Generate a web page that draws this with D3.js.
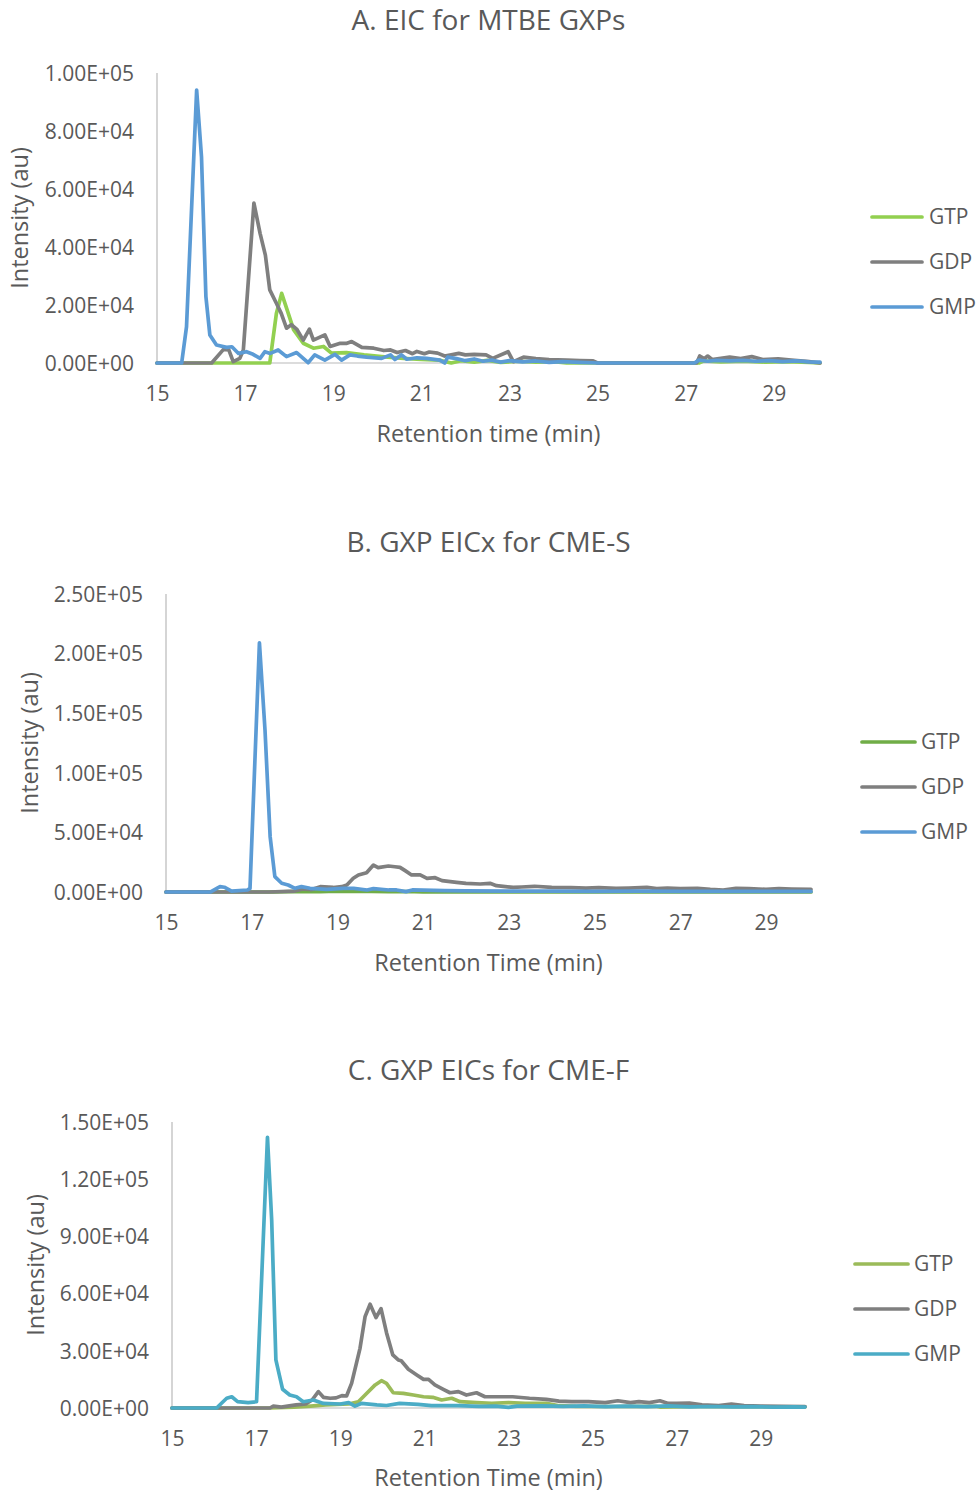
<!DOCTYPE html>
<html>
<head>
<meta charset="utf-8">
<script src="https://cdnjs.cloudflare.com/ajax/libs/d3/7.8.5/d3.min.js"></script>
<style>
  body { margin: 0; background: #fff; }
  svg text { font-family: "Open Sans", sans-serif; fill: #595959; }
</style>
</head>
<body>
<svg id="chart" width="978" height="1493"></svg>
<script>
// retention time ticks shared by all three panels
const xTicks = [15, 17, 19, 21, 23, 25, 27, 29]
const seriesNames = ['GTP', 'GDP', 'GMP']

// A. EIC for MTBE GXPs  ([time (min), intensity])
const aTicks = [0, 2e4, 4e4, 6e4, 8e4, 1e5]
const aGTP = [[15,0],[17.56,0],[17.71,17100],[17.83,24000],[17.98,17100],[18.1,11500],[18.32,6800],[18.55,5100],[18.78,5700],[18.96,3400],[19.3,3600],[19.7,2800],[20.1,2200],[20.6,1600],[21.0,1200],[21.4,1000],[21.68,0],[21.9,800],[22.2,300],[22.5,900],[22.8,200],[23.2,600],[23.6,300],[24.0,500],[24.3,0],[27.3,0],[27.4,700],[27.8,400],[28.3,600],[28.8,300],[29.3,500],[29.8,200],[30.05,0]]
const aGDP = [[15,0],[16.24,0],[16.51,4700],[16.63,4500],[16.73,500],[16.88,1600],[16.96,4500],[17.2,55100],[17.34,44700],[17.46,37200],[17.56,25200],[17.71,20600],[17.82,17100],[17.94,12000],[18.05,13200],[18.17,11700],[18.32,7900],[18.46,11700],[18.55,7900],[18.81,9700],[18.93,5700],[19.16,6800],[19.31,6800],[19.42,7400],[19.65,5400],[19.92,5100],[20.15,4300],[20.3,4500],[20.45,3600],[20.64,4300],[20.8,3200],[20.9,4000],[21.07,3200],[21.18,3800],[21.37,3400],[21.53,2400],[21.68,2800],[21.85,3300],[22.0,2800],[22.2,3000],[22.47,2800],[22.62,1600],[22.97,3900],[23.09,450],[23.32,2000],[23.6,1500],[23.9,1200],[24.3,1000],[24.6,800],[24.9,700],[25.0,0],[27.25,0],[27.32,2400],[27.42,1500],[27.5,2400],[27.6,1200],[28.0,2000],[28.25,1500],[28.5,2200],[28.75,1200],[29.1,1400],[29.4,1000],[29.8,500],[30.05,0]]
const aGMP = [[15,0],[15.56,0],[15.67,12500],[15.9,94100],[16.01,71100],[16.11,22900],[16.2,9650],[16.35,6200],[16.58,5400],[16.7,5600],[16.85,3300],[17.03,3900],[17.18,3000],[17.34,1600],[17.45,3900],[17.57,3300],[17.75,4500],[17.94,2200],[18.17,3600],[18.43,100],[18.58,2800],[18.81,1000],[19.04,3000],[19.19,1000],[19.38,2800],[19.55,2400],[19.76,2000],[20.1,1600],[20.3,2800],[20.4,1200],[20.55,2800],[20.67,1300],[20.9,1800],[21.12,1600],[21.42,1000],[21.53,0],[21.6,2000],[21.8,1500],[22.0,800],[22.2,1400],[22.4,600],[22.6,1000],[22.8,300],[23.0,800],[23.3,400],[23.6,700],[23.9,200],[24.2,500],[24.6,200],[25.0,0],[27.2,0],[27.3,1000],[27.5,600],[27.7,900],[28.0,700],[28.3,900],[28.6,600],[28.9,800],[29.2,500],[29.5,700],[29.8,400],[30.05,300]]

// B. GXP EICx for CME-S
const bTicks = [0, 5e4, 1e5, 1.5e5, 2e5, 2.5e5]
const bGTP = [[15,0],[17.5,0],[18.2,500],[18.6,300],[19.0,700],[19.4,400],[19.8,600],[20.2,200],[20.6,400],[21.0,0],[30.05,0]]
const bGDP = [[15,0],[17.4,0],[18.0,800],[18.2,2500],[18.4,2000],[18.6,4500],[18.9,3800],[19.1,4500],[19.22,5900],[19.37,11500],[19.49,14300],[19.68,16200],[19.84,22600],[19.95,20400],[20.19,21800],[20.34,21200],[20.46,20700],[20.58,17900],[20.73,14300],[20.93,14300],[21.09,11500],[21.28,12000],[21.44,9500],[21.78,8100],[22.0,7300],[22.33,6700],[22.56,7300],[22.71,5300],[23.1,3900],[23.3,4200],[23.6,4800],[24.0,3900],[24.45,3600],[24.8,3300],[25.1,3600],[25.5,3100],[25.8,3300],[26.22,3900],[26.45,2800],[26.7,3300],[27.0,2800],[27.4,3100],[27.7,2200],[28.0,1700],[28.3,3100],[28.6,2800],[29.0,2200],[29.3,2800],[29.6,2500],[30.05,2200]]
const bGMP = [[15,0],[16.03,0],[16.26,4500],[16.36,4000],[16.53,800],[16.9,1700],[16.96,3000],[17.18,209100],[17.31,135900],[17.43,46400],[17.54,12900],[17.7,7300],[17.85,5900],[18.01,3100],[18.16,4500],[18.36,3100],[18.75,2200],[19.14,3100],[19.38,3100],[19.69,1700],[19.84,2800],[20.2,1700],[20.38,1700],[20.6,300],[20.75,1700],[21.5,1200],[22.0,900],[23,800],[24,700],[25,600],[26,700],[27,500],[28,600],[29,500],[30.05,500]]

// C. GXP EICs for CME-F
const cTicks = [0, 3e4, 6e4, 9e4, 1.2e5, 1.5e5]
const cGTP = [[15,0],[17.33,0],[17.9,500],[18.3,1000],[18.65,1600],[19.2,2100],[19.43,3300],[19.59,6800],[19.83,12100],[19.98,14300],[20.1,12900],[20.26,8000],[20.5,7700],[20.74,6800],[20.98,5900],[21.2,5600],[21.41,4200],[21.65,5100],[21.85,3300],[22.24,2800],[22.6,2500],[23.0,2800],[23.4,2500],[23.9,2500],[24.2,1200],[24.6,900],[25.5,800],[26.5,900],[26.6,500],[27.5,800],[28.5,700],[29.5,600],[30.05,600]]
const cGDP = [[15,0],[17.33,0],[17.41,1000],[17.6,500],[17.75,1000],[17.95,1600],[18.18,2100],[18.33,4200],[18.48,8600],[18.6,5600],[18.76,5100],[18.9,5300],[19.04,6500],[19.15,6300],[19.27,12900],[19.47,31300],[19.59,47900],[19.71,54400],[19.85,47400],[19.97,52100],[20.1,39500],[20.25,27800],[20.38,25200],[20.45,24800],[20.62,20300],[20.82,17300],[20.98,15000],[21.1,15000],[21.25,12100],[21.45,9800],[21.61,8000],[21.81,8600],[22.0,6800],[22.24,8000],[22.44,5900],[22.7,5900],[23.1,5900],[23.5,5100],[23.9,4500],[24.2,3600],[24.5,3300],[24.9,3300],[25.3,2800],[25.6,3800],[25.9,2800],[26.1,3300],[26.35,2800],[26.6,3800],[26.8,2400],[27.0,2400],[27.3,2600],[27.6,1600],[28.0,1300],[28.3,2100],[28.6,1300],[29.0,1000],[29.5,900],[30.05,700]]
const cGMP = [[15,0],[16.06,0],[16.3,5100],[16.42,5900],[16.56,3300],[16.81,2800],[17.01,3300],[17.27,142000],[17.37,98600],[17.47,25200],[17.63,9800],[17.8,6800],[17.96,5900],[18.12,3300],[18.36,4200],[18.6,2400],[19.0,2100],[19.2,2800],[19.35,1000],[19.5,2400],[19.87,1600],[20.1,1300],[20.41,2400],[20.85,1900],[21.17,1200],[21.8,1200],[22.3,900],[22.7,1000],[23.0,300],[23.2,1000],[23.8,1100],[24.3,900],[24.8,1100],[25.3,700],[25.8,1000],[26.3,700],[26.8,1100],[27.3,600],[27.8,800],[28.3,600],[28.8,700],[29.3,500],[29.8,600],[30.05,500]]

const panels = [
	{ title: 'A. EIC for MTBE GXPs', xLabel: 'Retention time (min)', ticks: aTicks, series: [aGTP, aGDP, aGMP],
	  colors: ['#92D050', '#7F7F7F', '#5B9BD5'],
	  left: 157, right: 820, top: 73, bottom: 363, titleY: 20, xLabelY: 434, yLabelX: 20,
	  legend: { x1: 872, x2: 922, tx: 929, ys: [217, 262, 307] } },
	{ title: 'B. GXP EICx for CME-S', xLabel: 'Retention Time (min)', ticks: bTicks, series: [bGTP, bGDP, bGMP],
	  colors: ['#70AD47', '#7F7F7F', '#5B9BD5'],
	  left: 166, right: 811, top: 594, bottom: 892, titleY: 542, xLabelY: 963, yLabelX: 30,
	  legend: { x1: 862, x2: 915, tx: 921, ys: [742, 787, 832] } },
	{ title: 'C. GXP EICs for CME-F', xLabel: 'Retention Time (min)', ticks: cTicks, series: [cGTP, cGDP, cGMP],
	  colors: ['#9BBB59', '#7F7F7F', '#4BACC6'],
	  left: 172, right: 805, top: 1122, bottom: 1408, titleY: 1070, xLabelY: 1478, yLabelX: 36,
	  legend: { x1: 855, x2: 908, tx: 914, ys: [1264, 1309, 1354] } }
]

// Excel style scientific labels, e.g. 1.00E+05
function sci (v) {
	if (v === 0) return '0.00E+00'
	const e = Math.floor(Math.log10(v))
	const m = v / Math.pow(10, e)
	return m.toFixed(2) + 'E+' + String(e).padStart(2, '0')
}

const svg = d3.select('#chart')

panels.forEach(p => {
	const g = svg.append('g')
	const x = d3.scaleLinear().domain([15, 30.05]).range([p.left, p.right])
	const y = d3.scaleLinear().domain([0, d3.max(p.ticks)]).range([p.bottom, p.top])
	const cx = (p.left + p.right) / 2

	// axis lines
	g.append('line').attr('x1', p.left).attr('x2', p.left).attr('y1', p.top).attr('y2', p.bottom)
		.attr('stroke', '#BFBFBF').attr('stroke-width', 1.3)
	g.append('line').attr('x1', p.left).attr('x2', p.right).attr('y1', p.bottom).attr('y2', p.bottom)
		.attr('stroke', '#D0D0D0').attr('stroke-width', 1.3)

	const yAxis = g.append('g').attr('transform', `translate(${p.left},0)`)
		.call(d3.axisLeft(y).tickValues(p.ticks).tickSize(0).tickPadding(23).tickFormat(sci))
	yAxis.select('.domain').remove()
	yAxis.selectAll('text').attr('font-size', 21).attr('dy', '0.35em')
		.style('font-family', '"Open Sans", sans-serif').attr('fill', '#595959')

	const xAxis = g.append('g').attr('transform', `translate(0,${p.bottom})`)
		.call(d3.axisBottom(x).tickValues(xTicks).tickSize(0).tickPadding(0))
	xAxis.select('.domain').remove()
	xAxis.selectAll('text').attr('font-size', 21).attr('y', 31).attr('dy', '0.35em')
		.style('font-family', '"Open Sans", sans-serif').attr('fill', '#595959')

	// titles
	g.append('text').attr('x', cx).attr('y', p.titleY).attr('dy', '0.35em')
		.attr('text-anchor', 'middle').attr('font-size', 28).text(p.title)
	g.append('text').attr('x', cx).attr('y', p.xLabelY).attr('dy', '0.35em')
		.attr('text-anchor', 'middle').attr('font-size', 23.5).text(p.xLabel)
	g.append('text').attr('transform', `translate(${p.yLabelX},${(p.top + p.bottom) / 2}) rotate(-90)`)
		.attr('dy', '0.35em').attr('text-anchor', 'middle').attr('font-size', 23.5).text('Intensity (au)')

	// traces
	const line = d3.line().x(d => x(d[0])).y(d => y(d[1]))
	p.series.forEach((s, i) => {
		g.append('path').datum(s).attr('d', line)
			.attr('fill', 'none').attr('stroke', p.colors[i]).attr('stroke-width', 3.7)
			.attr('stroke-linejoin', 'round').attr('stroke-linecap', 'round')
	})

	// legend
	seriesNames.forEach((name, i) => {
		const ly = p.legend.ys[i]
		g.append('line').attr('x1', p.legend.x1).attr('x2', p.legend.x2).attr('y1', ly).attr('y2', ly)
			.attr('stroke', p.colors[i]).attr('stroke-width', 3.7).attr('stroke-linecap', 'round')
		g.append('text').attr('x', p.legend.tx).attr('y', ly).attr('dy', '0.35em')
			.attr('font-size', 21).text(name)
	})
})
</script>
</body>
</html>
